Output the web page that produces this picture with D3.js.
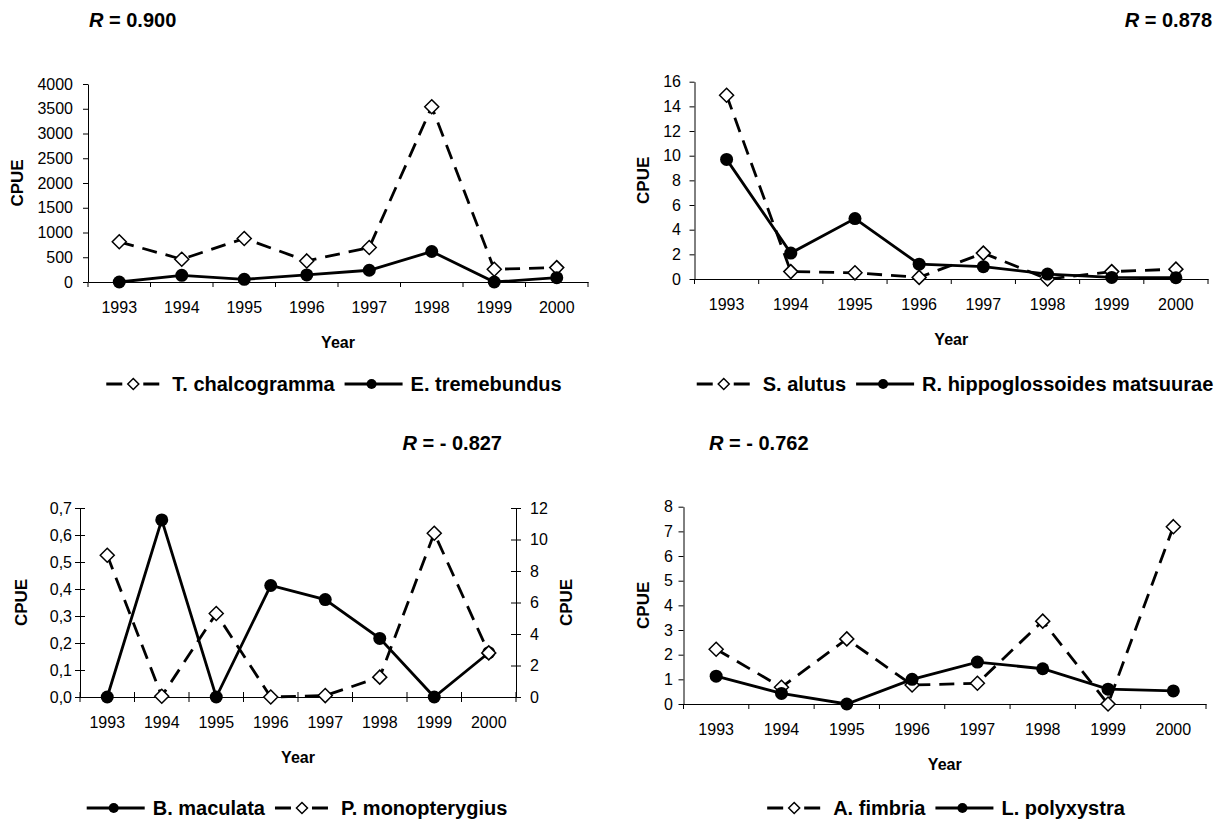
<!DOCTYPE html>
<html>
<head>
<meta charset="utf-8">
<script src="https://cdn.jsdelivr.net/npm/d3@7.9.0/dist/d3.min.js"></script>
<style>
  body { margin: 0; background: #fff; }
  svg { display: block; font-family: "Liberation Sans", Arial, Helvetica, sans-serif; }
  .tick text { font-size: 16px; fill: #000; }
  .domain, .tick line { stroke: #000; }
</style>
</head>
<body>
<svg id="chart" width="1218" height="825"></svg>
<script>
// years on every x axis
const years = [1993, 1994, 1995, 1996, 1997, 1998, 1999, 2000];

// CPUE values
const tChalcogramma = [812, 460, 880, 426, 697, 3540, 257, 291];
const eTremebundus = [0, 135, 54, 142, 237, 616, 0, 88];
const sAlutus = [14.9, 0.6, 0.5, 0.13, 2.1, 0, 0.6, 0.8];
const rHippoglossoides = [9.7, 2.1, 4.9, 1.2, 1.0, 0.4, 0.13, 0.1];
const bMaculata = [0, 0.656, 0, 0.413, 0.361, 0.217, 0, 0.164];
const pMonopterygius = [9.0, 0.05, 5.3, 0, 0.09, 1.26, 10.4, 2.8];
const aFimbria = [2.22, 0.68, 2.64, 0.77, 0.84, 3.36, 0, 7.19];
const lPolyxystra = [1.13, 0.43, 0, 1.0, 1.7, 1.43, 0.6, 0.53];

// axis tick values
const ticksTL = [0, 500, 1000, 1500, 2000, 2500, 3000, 3500, 4000];
const ticksTR = [0, 2, 4, 6, 8, 10, 12, 14, 16];
const ticksBLleft = [0, 0.1, 0.2, 0.3, 0.4, 0.5, 0.6, 0.7];
const ticksBLright = [0, 2, 4, 6, 8, 10, 12];
const ticksBR = [0, 1, 2, 3, 4, 5, 6, 7, 8];

// correlation labels
const rLabels = ["0.900", "0.878", "- 0.827", "- 0.762"];

const svg = d3.select("#chart");
const commaFmt = (d) => d3.format(".1f")(d).replace(".", ",");

const panels = [
  {
    left: 88, right: 588, top: 84, bottom: 282,
    yMax: 4000, yTicks: ticksTL, pad: 10, cpueX: 17,
    r: rLabels[0], rX: 89, rY: 27, rAnchor: "start",
    legendX: 334, legendY: 384,
    series: [
      { name: "T. chalcogramma", values: tChalcogramma, dashed: true },
      { name: "E. tremebundus", values: eTremebundus, dashed: false }
    ]
  },
  {
    left: 694.5, right: 1208, top: 81.7, bottom: 279,
    yMax: 16, yTicks: ticksTR, pad: 8.5, cpueX: 643,
    r: rLabels[1], rX: 1212, rY: 27, rAnchor: "end",
    legendX: 955, legendY: 384,
    series: [
      { name: "S. alutus", values: sAlutus, dashed: true },
      { name: "R. hippoglossoides matsuurae", values: rHippoglossoides, dashed: false }
    ]
  },
  {
    left: 80, right: 516, top: 508, bottom: 697,
    yMax: 0.7, yTicks: ticksBLleft, pad: 3, cpueX: 21, fmt: commaFmt, cross: true,
    y2Max: 12, y2Ticks: ticksBLright, cpue2X: 566,
    r: rLabels[2], rX: 502, rY: 450, rAnchor: "end",
    legendX: 297, legendY: 808,
    series: [
      { name: "B. maculata", values: bMaculata, dashed: false },
      { name: "P. monopterygius", values: pMonopterygius, dashed: true, right: true }
    ]
  },
  {
    left: 683.5, right: 1206, top: 506.7, bottom: 704,
    yMax: 8, yTicks: ticksBR, pad: 5.5, cpueX: 643,
    r: rLabels[3], rX: 709, rY: 450, rAnchor: "start",
    legendX: 946, legendY: 808,
    series: [
      { name: "A. fimbria", values: aFimbria, dashed: true },
      { name: "L. polyxystra", values: lPolyxystra, dashed: false }
    ]
  }
];

function marker(sel, dashed, size) {
  if (dashed) {
    sel.append("path")
      .attr("d", `M0,${-size}L${size},0L0,${size}L${-size},0Z`)
      .attr("fill", "#fff").attr("stroke", "#000").attr("stroke-width", 1.5);
  } else {
    sel.append("circle").attr("r", size - 0.5).attr("fill", "#000");
  }
}

function drawPanel(p) {
  const g = svg.append("g");
  const x = d3.scaleBand().domain(years).range([p.left, p.right]);
  const y = d3.scaleLinear().domain([0, p.yMax]).range([p.bottom, p.top]);
  const y2 = p.y2Max ? d3.scaleLinear().domain([0, p.y2Max]).range([p.bottom, p.top]) : null;

  // left axis
  const yAxis = g.append("g")
    .attr("transform", `translate(${p.left},0)`)
    .call(d3.axisLeft(y).tickValues(p.yTicks).tickFormat(p.fmt || d3.format("d"))
      .tickSize(5).tickSizeOuter(0).tickPadding(p.pad));
  if (p.cross) yAxis.selectAll(".tick line").attr("x1", 5);

  // right axis (bottom-left panel only)
  if (y2) {
    const y2Axis = g.append("g")
      .attr("transform", `translate(${p.right},0)`)
      .call(d3.axisRight(y2).tickValues(p.y2Ticks).tickSize(5).tickSizeOuter(0).tickPadding(9));
    y2Axis.selectAll(".tick line").attr("x1", -5);
    g.append("text")
      .attr("transform", `translate(${p.cpue2X},${(p.top + p.bottom) / 2}) rotate(-90)`)
      .attr("text-anchor", "middle").attr("dy", "0.36em")
      .attr("font-size", 17).attr("font-weight", "bold").text("CPUE");
  }

  // bottom axis: labels centred on years, ticks on the category edges
  g.append("g")
    .attr("transform", `translate(0,${p.bottom})`)
    .call(d3.axisBottom(x).tickSize(0).tickPadding(20));
  const edges = years.map((d) => x(d)).concat([x.range()[1]]);
  g.selectAll(".edge")
    .data(edges)
    .join("line")
    .attr("x1", (d) => d).attr("x2", (d) => d)
    .attr("y1", p.cross ? p.bottom - 5 : p.bottom).attr("y2", p.bottom + 5)
    .attr("stroke", "#000");

  // axis titles
  g.append("text")
    .attr("transform", `translate(${p.cpueX},${(p.top + p.bottom) / 2}) rotate(-90)`)
    .attr("text-anchor", "middle").attr("dy", "0.36em")
    .attr("font-size", 17).attr("font-weight", "bold").text("CPUE");
  g.append("text")
    .attr("x", (p.left + p.right) / 2).attr("y", p.bottom + 66)
    .attr("text-anchor", "middle")
    .attr("font-size", 16).attr("font-weight", "bold").text("Year");

  // R label
  const rText = g.append("text")
    .attr("x", p.rX).attr("y", p.rY).attr("text-anchor", p.rAnchor)
    .attr("font-size", 20).attr("font-weight", "bold");
  rText.append("tspan").attr("font-style", "italic").text("R");
  rText.append("tspan").text(" = " + p.r);

  // series
  p.series.forEach((s) => {
    const ys = s.right ? y2 : y;
    const pts = years.map((yr, i) => [x(yr) + x.bandwidth() / 2, ys(s.values[i])]);
    g.append("path")
      .attr("d", d3.line()(pts))
      .attr("fill", "none").attr("stroke", "#000").attr("stroke-width", 2.8)
      .attr("stroke-dasharray", s.dashed ? "15,9" : null);
    pts.forEach((pt) => {
      marker(g.append("g").attr("transform", `translate(${pt[0]},${pt[1]})`), s.dashed, 7);
    });
  });

  // legend
  const lg = g.append("g");
  let cx = 0;
  p.series.forEach((s) => {
    const item = lg.append("g").attr("transform", `translate(${cx},0)`);
    item.append("line")
      .attr("x1", 0).attr("x2", 58).attr("y1", 0).attr("y2", 0)
      .attr("stroke", "#000").attr("stroke-width", 3)
      .attr("stroke-dasharray", s.dashed ? "16,21" : null);
    marker(item.append("g").attr("transform", "translate(27,0)"), s.dashed, 5.5);
    const t = item.append("text")
      .attr("x", 66).attr("dy", "0.36em")
      .attr("font-size", 20).attr("font-weight", "bold").text(s.name);
    cx += 66 + t.node().getComputedTextLength() + 10;
  });
  const w = cx - 10;
  lg.attr("transform", `translate(${p.legendX - w / 2},${p.legendY})`);
}

panels.forEach(drawPanel);
</script>
</body>
</html>
